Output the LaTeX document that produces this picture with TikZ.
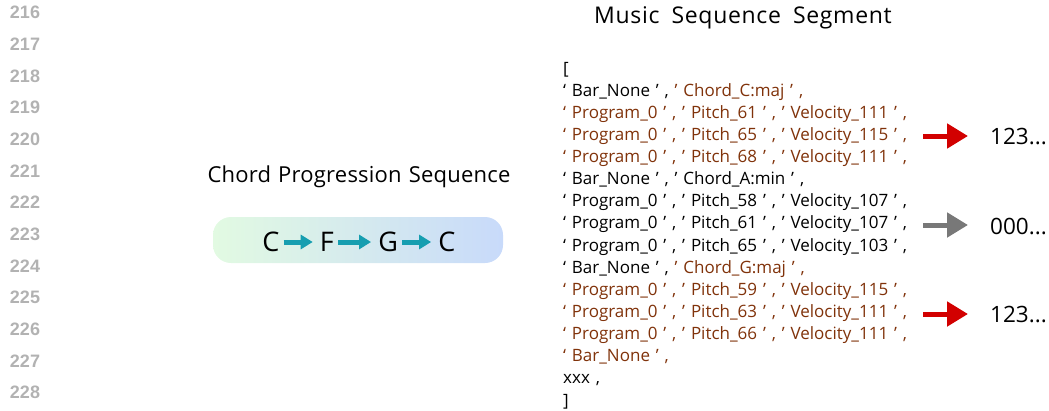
\documentclass[tikz,border=0pt]{standalone}
\usepackage{fontspec}
\setmainfont{Open Sans}
\newfontfamily\numfont{Liberation Sans}
\newfontfamily\headfont{Open Sans}[WordSpace=1.2,LetterSpace=1]
\newfontfamily\segfont{Open Sans}[WordSpace=1.8,LetterSpace=3]
\newfontfamily\codefont{Open Sans}[WordSpace=1.33]
\usetikzlibrary{arrows.meta,positioning,calc}
\definecolor{tokbrown}{RGB}{128,50,10}
\definecolor{chordteal}{RGB}{22,158,176}
\definecolor{boxgreen}{RGB}{226,250,226}
\definecolor{boxblue}{RGB}{200,218,250}
\definecolor{hitred}{RGB}{210,0,0}
\definecolor{missgray}{RGB}{120,120,120}
\newcommand\br[1]{\textcolor{tokbrown}{#1}}

\begin{document}
\begin{tikzpicture}[x=1pt,y=-1pt,
		lineno/.style={font=\numfont\bfseries\fontsize{18}{18}\selectfont, text=black!30, inner sep=0pt},
		heading/.style={font=\headfont\fontsize{22}{26}\selectfont, inner sep=0pt},
		codeline/.style={anchor=base west, inner sep=0pt, font=\codefont\fontsize{17}{20}\selectfont},
		chord/.style={font=\fontsize{27}{30}\selectfont, inner sep=0pt},
		chordarr/.style={-{Triangle[length=12pt,width=14pt]}, line width=5pt, draw=chordteal, shorten <=4pt, shorten >=7pt},
		result/.style={anchor=west, inner sep=0pt, font=\fontsize{22.5}{26}\selectfont},
		outarr/.style={-{Triangle[length=21pt,width=24pt]}, line width=5pt, shorten >=22pt}]
	\useasboundingbox (0,0) rectangle (1049,410);
	% line numbers
	\foreach \n [count=\i from 0] in {216,...,228}
		\node[lineno] (n\n) at (25,12.5+31.67*\i) {\n};
	% chord progression
	\node[heading] (cptitle) at (359,177) {Chord Progression Sequence};
	\node[rounded corners=18pt, minimum width=290pt, minimum height=46pt,
		left color=boxgreen, right color=boxblue] (prog) at (358,240) {};
	\node[chord] (c1) at (271,242) {C};
	\node[chord, right=40pt of c1] (c2) {F};
	\node[chord, right=44pt of c2] (c3) {G};
	\node[chord, right=40pt of c3] (c4) {C};
	\draw[chordarr] (c1) -- (c2);
	\draw[chordarr] (c2) -- (c3);
	\draw[chordarr] (c3) -- (c4);
	% music sequence
	\node[heading, font=\segfont\fontsize{23}{26}\selectfont] (mstitle) at (743,18) {Music Sequence Segment};
	\node[codeline] (l1) at (563,74) {[};
	\node[codeline] (l2) at (563,96.1) {‘ Bar\_None ’ , \br{’ Chord\_C:maj ’ ,}};
	\node[codeline] (l3) at (563,118.3) {\br{‘ Program\_0 ’ , ’ Pitch\_61 ’ , ’ Velocity\_111 ’ ,}};
	\node[codeline] (l4) at (563,140.4) {\br{‘ Program\_0 ’ , ’ Pitch\_65 ’ , ’ Velocity\_115 ’ ,}};
	\node[codeline] (l5) at (563,162.5) {\br{‘ Program\_0 ’ , ’ Pitch\_68 ’ , ’ Velocity\_111 ’ ,}};
	\node[codeline] (l6) at (563,184.7) {‘ Bar\_None ’ , ’ Chord\_A:min ’ ,};
	\node[codeline] (l7) at (563,206.8) {‘ Program\_0 ’ , ’ Pitch\_58 ’ , ’ Velocity\_107 ’ ,};
	\node[codeline] (l8) at (563,228.9) {‘ Program\_0 ’ , ’ Pitch\_61 ’ , ’ Velocity\_107 ’ ,};
	\node[codeline] (l9) at (563,251.0) {‘ Program\_0 ’ , ’ Pitch\_65 ’ , ’ Velocity\_103 ’ ,};
	\node[codeline] (l10) at (563,273.2) {‘ Bar\_None ’ , \br{’ Chord\_G:maj ’ ,}};
	\node[codeline] (l11) at (563,295.3) {\br{‘ Program\_0 ’ , ’ Pitch\_59 ’ , ’ Velocity\_115 ’ ,}};
	\node[codeline] (l12) at (563,317.4) {\br{‘ Program\_0 ’ , ’ Pitch\_63 ’ , ’ Velocity\_111 ’ ,}};
	\node[codeline] (l13) at (563,339.6) {\br{‘ Program\_0 ’ , ’ Pitch\_66 ’ , ’ Velocity\_111 ’ ,}};
	\node[codeline] (l14) at (563,361.7) {\br{‘ Bar\_None ’ ,}};
	\node[codeline] (l15) at (563,383.8) {xxx ,};
	\node[codeline] (l16) at (563,406) {]};
	% outputs
	\coordinate (a1) at (923,136);
	\coordinate (a2) at (923,225);
	\coordinate (a3) at (923,314);
	\node[result] (r1) at (990,137) {123...};
	\node[result] (r2) at (990,226) {000...};
	\node[result] (r3) at (990,315) {123...};
	\draw[outarr, draw=hitred, fill=hitred] (a1) -- (a1 -| r1.west);
	\draw[outarr, draw=missgray, fill=missgray] (a2) -- (a2 -| r2.west);
	\draw[outarr, draw=hitred, fill=hitred] (a3) -- (a3 -| r3.west);
\end{tikzpicture}
\end{document}
